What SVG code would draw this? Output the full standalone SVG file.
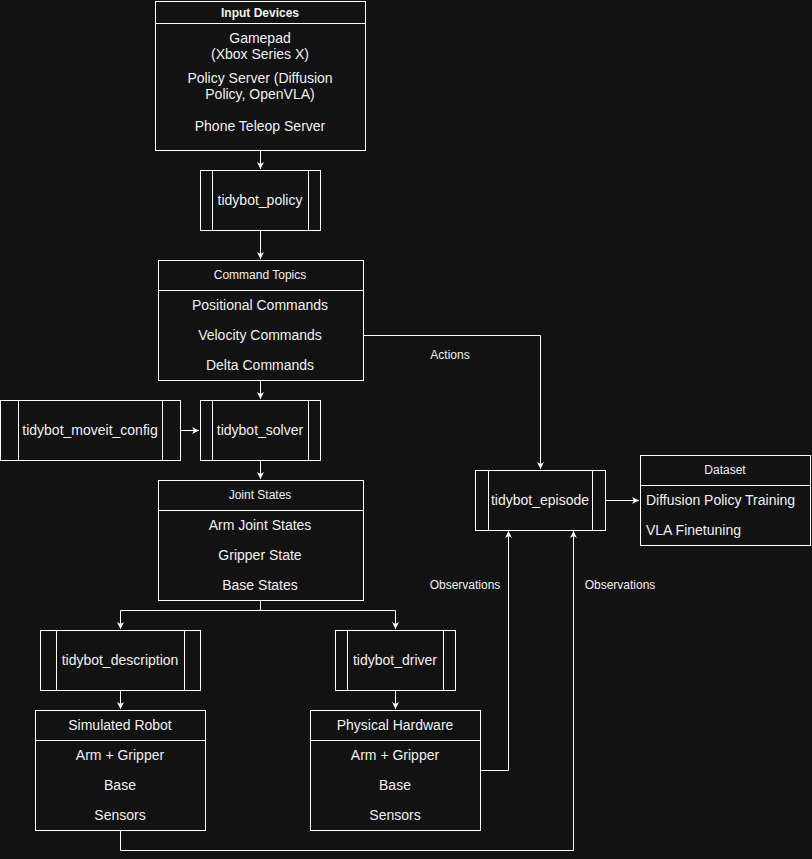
<svg xmlns="http://www.w3.org/2000/svg" width="812" height="859" viewBox="0 0 812 859">
<style>
.bg{fill:#121212}
.box{fill:#121212;stroke:#fff;stroke-width:1}
.ln{stroke:#fff;stroke-width:1;fill:none}
.t{font-family:"Liberation Sans",Arial,sans-serif;font-size:14px;fill:#f0f0f0;text-anchor:middle;dominant-baseline:central}
.s{font-size:12px}
.b{font-weight:bold}
.l{text-anchor:start}
.c{stroke:#fff;stroke-width:1;fill:none;marker-end:url(#ah)}
</style>
<defs>
<marker id="ah" markerWidth="8" markerHeight="8" refX="7" refY="4" orient="auto" markerUnits="userSpaceOnUse">
<path d="M0,0.5 L7,4 L0,7.5 L2,4 Z" fill="#fff"/>
</marker>
</defs>
<rect class="bg" x="0" y="0" width="812" height="859"/>
<g id="connectors">
<path class="c" d="M260.5,150.5 V169"/>
<path class="c" d="M260.5,230.5 V259"/>
<path class="c" d="M260.5,380.5 V399"/>
<path class="c" d="M180.5,430.5 H199"/>
<path class="c" d="M260.5,460.5 V479"/>
<path class="c" d="M260.5,600.5 V610.5 H120.5 V629"/>
<path class="c" d="M260.5,610.5 H395.5 V629"/>
<path class="c" d="M120.5,690.5 V709"/>
<path class="c" d="M395.5,690.5 V709"/>
<path class="c" d="M363.5,335.5 H540.5 V469"/>
<path class="c" d="M605.5,500.5 H639"/>
<path class="c" d="M480.5,770.5 H508.5 V531"/>
<path class="c" d="M120.5,830.5 V850.5 H573.5 V531"/>
<text class="t s" x="450" y="355">Actions</text>
<text class="t s" x="465" y="585">Observations</text>
<text class="t s" x="620" y="585">Observations</text>
</g>
<g id="input-devices">
<rect class="box" x="155.5" y="1.5" width="210" height="149"/>
<line class="ln" x1="155.5" y1="23.5" x2="365.5" y2="23.5"/>
<text class="t s b" x="260" y="13">Input Devices</text>
<text class="t" x="260" y="38">Gamepad</text>
<text class="t" x="260" y="54">(Xbox Series X)</text>
<text class="t" x="260" y="78">Policy Server (Diffusion</text>
<text class="t" x="260" y="94">Policy, OpenVLA)</text>
<text class="t" x="260" y="126">Phone Teleop Server</text>
</g>
<g id="tidybot-policy">
<rect class="box" x="200.5" y="170.5" width="120" height="60"/>
<line class="ln" x1="212.5" y1="170.5" x2="212.5" y2="230.5"/>
<line class="ln" x1="308.5" y1="170.5" x2="308.5" y2="230.5"/>
<text class="t" x="260" y="200">tidybot_policy</text>
</g>
<g id="command-topics">
<rect class="box" x="158.5" y="260.5" width="205" height="120"/>
<line class="ln" x1="158.5" y1="290.5" x2="363.5" y2="290.5"/>
<text class="t s" x="260" y="275">Command Topics</text>
<text class="t" x="260" y="305">Positional Commands</text>
<text class="t" x="260" y="335">Velocity Commands</text>
<text class="t" x="260" y="365">Delta Commands</text>
</g>
<g id="tidybot-moveit-config">
<rect class="box" x="0.5" y="400.5" width="180" height="60"/>
<line class="ln" x1="18.5" y1="400.5" x2="18.5" y2="460.5"/>
<line class="ln" x1="162.5" y1="400.5" x2="162.5" y2="460.5"/>
<text class="t" x="90" y="430">tidybot_moveit_config</text>
</g>
<g id="tidybot-solver">
<rect class="box" x="200.5" y="400.5" width="120" height="60"/>
<line class="ln" x1="212.5" y1="400.5" x2="212.5" y2="460.5"/>
<line class="ln" x1="308.5" y1="400.5" x2="308.5" y2="460.5"/>
<text class="t" x="260" y="430">tidybot_solver</text>
</g>
<g id="joint-states">
<rect class="box" x="158.5" y="480.5" width="205" height="120"/>
<line class="ln" x1="158.5" y1="510.5" x2="363.5" y2="510.5"/>
<text class="t s" x="260" y="495">Joint States</text>
<text class="t" x="260" y="525">Arm Joint States</text>
<text class="t" x="260" y="555">Gripper State</text>
<text class="t" x="260" y="585">Base States</text>
</g>
<g id="tidybot-description">
<rect class="box" x="40.5" y="630.5" width="160" height="60"/>
<line class="ln" x1="56.5" y1="630.5" x2="56.5" y2="690.5"/>
<line class="ln" x1="184.5" y1="630.5" x2="184.5" y2="690.5"/>
<text class="t" x="120" y="660">tidybot_description</text>
</g>
<g id="tidybot-driver">
<rect class="box" x="335.5" y="630.5" width="120" height="60"/>
<line class="ln" x1="347.5" y1="630.5" x2="347.5" y2="690.5"/>
<line class="ln" x1="443.5" y1="630.5" x2="443.5" y2="690.5"/>
<text class="t" x="395" y="660">tidybot_driver</text>
</g>
<g id="simulated-robot">
<rect class="box" x="35.5" y="710.5" width="170" height="120"/>
<line class="ln" x1="35.5" y1="740.5" x2="205.5" y2="740.5"/>
<text class="t" x="120" y="725">Simulated Robot</text>
<text class="t" x="120" y="755">Arm + Gripper</text>
<text class="t" x="120" y="785">Base</text>
<text class="t" x="120" y="815">Sensors</text>
</g>
<g id="physical-hardware">
<rect class="box" x="310.5" y="710.5" width="170" height="120"/>
<line class="ln" x1="310.5" y1="740.5" x2="480.5" y2="740.5"/>
<text class="t" x="395" y="725">Physical Hardware</text>
<text class="t" x="395" y="755">Arm + Gripper</text>
<text class="t" x="395" y="785">Base</text>
<text class="t" x="395" y="815">Sensors</text>
</g>
<g id="tidybot-episode">
<rect class="box" x="475.5" y="470.5" width="130" height="60"/>
<line class="ln" x1="488.5" y1="470.5" x2="488.5" y2="530.5"/>
<line class="ln" x1="592.5" y1="470.5" x2="592.5" y2="530.5"/>
<text class="t" x="540" y="500">tidybot_episode</text>
</g>
<g id="dataset">
<rect class="box" x="640.5" y="455.5" width="170" height="90"/>
<line class="ln" x1="640.5" y1="485.5" x2="810.5" y2="485.5"/>
<text class="t s" x="725" y="470">Dataset</text>
<text class="t l" x="646" y="500">Diffusion Policy Training</text>
<text class="t l" x="646" y="530">VLA Finetuning</text>
</g>
</svg>
